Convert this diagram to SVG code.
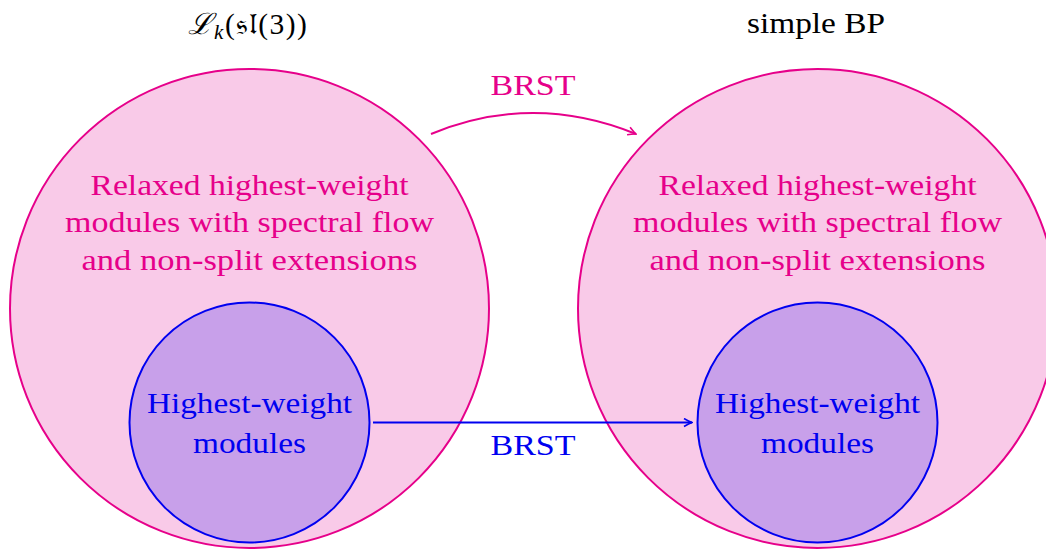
<svg xmlns="http://www.w3.org/2000/svg" width="1046" height="552" viewBox="0 0 1046 552">
<defs>
<style>
.big{fill:#F9CAE8;stroke:#E6008A;stroke-width:2}
.small{fill:#C8A0EA;stroke:#0000F0;stroke-width:2}
.t{font-family:"Liberation Serif","DejaVu Serif",serif;font-size:29.5px;text-anchor:middle}
.pk{fill:#E6008A}
.bl{fill:#0000F0}
.blk{fill:#000}
</style>
<marker id="ap" viewBox="0 0 10 10" refX="9" refY="5" markerWidth="10" markerHeight="10" markerUnits="userSpaceOnUse" orient="auto">
<path d="M1,1 Q6,4 9,5 Q6,6 1,9" fill="none" stroke="#E6008A" stroke-width="1.6"/>
</marker>
<marker id="ab" viewBox="0 0 10 10" refX="9" refY="5" markerWidth="10" markerHeight="10" markerUnits="userSpaceOnUse" orient="auto">
<path d="M1,1 Q6,4 9,5 Q6,6 1,9" fill="none" stroke="#0000F0" stroke-width="1.6"/>
</marker>
</defs>
<rect width="1046" height="552" fill="#fff"/>
<g id="left">
<circle class="big" cx="249.5" cy="308.5" r="239.5"/>
<text class="t pk" x="249.5" y="195" textLength="318" lengthAdjust="spacingAndGlyphs">Relaxed highest-weight</text>
<text class="t pk" x="249.5" y="232" textLength="369" lengthAdjust="spacingAndGlyphs">modules with spectral flow</text>
<text class="t pk" x="249.5" y="270" textLength="336" lengthAdjust="spacingAndGlyphs">and non-split extensions</text>
</g>
<g id="left-inner">
<circle class="small" cx="249.5" cy="422.5" r="120"/>
<text class="t bl" x="249.5" y="413" textLength="205" lengthAdjust="spacingAndGlyphs">Highest-weight</text>
<text class="t bl" x="249.5" y="453" textLength="113" lengthAdjust="spacingAndGlyphs">modules</text>
</g>
<g id="right">
<circle class="big" cx="817.5" cy="308.5" r="239.5"/>
<text class="t pk" x="817.5" y="195" textLength="318" lengthAdjust="spacingAndGlyphs">Relaxed highest-weight</text>
<text class="t pk" x="817.5" y="232" textLength="369" lengthAdjust="spacingAndGlyphs">modules with spectral flow</text>
<text class="t pk" x="817.5" y="270" textLength="336" lengthAdjust="spacingAndGlyphs">and non-split extensions</text>
</g>
<g id="right-inner">
<circle class="small" cx="817.5" cy="422.5" r="120"/>
<text class="t bl" x="817.5" y="413" textLength="205" lengthAdjust="spacingAndGlyphs">Highest-weight</text>
<text class="t bl" x="817.5" y="453" textLength="113" lengthAdjust="spacingAndGlyphs">modules</text>
</g>
<g id="titles">
<text class="t blk" x="248" y="34" font-size="31" letter-spacing="1.5"><tspan font-style="italic">ℒ</tspan><tspan font-style="italic" font-size="21" dy="5">k</tspan><tspan dy="-5">(𝔰𝔩(3))</tspan></text>
<text class="t blk" x="816" y="33" textLength="138" lengthAdjust="spacingAndGlyphs">simple BP</text>
</g>
<g id="connectors">
<path d="M431,134 Q533,92 636,134" fill="none" stroke="#E6008A" stroke-width="2" marker-end="url(#ap)"/>
<text class="t pk" x="533" y="95" textLength="85" lengthAdjust="spacingAndGlyphs">BRST</text>
<path d="M373,422.5 L692,422.5" fill="none" stroke="#0000F0" stroke-width="2" marker-end="url(#ab)"/>
<text class="t bl" x="533" y="455" textLength="85" lengthAdjust="spacingAndGlyphs">BRST</text>
</g>
</svg>
